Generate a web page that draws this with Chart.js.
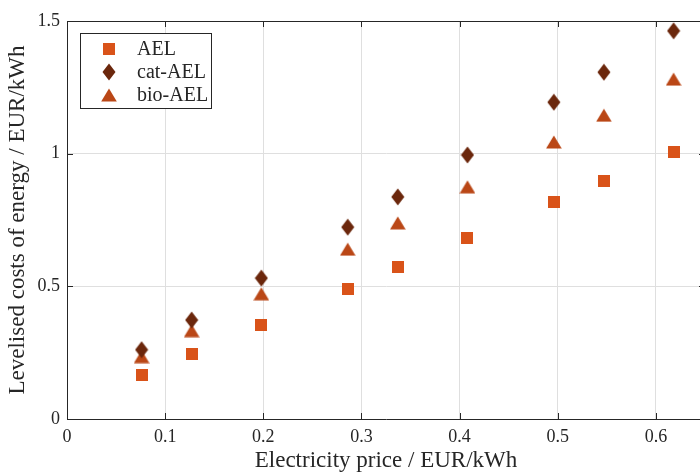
<!DOCTYPE html>
<html>
<head>
<meta charset="utf-8">
<script src="https://cdn.jsdelivr.net/npm/chart.js@4.4.1/dist/chart.umd.min.js"></script>
<style>
  html, body { margin: 0; padding: 0; background: #fff; overflow: hidden; }
  canvas { display: block; }
</style>
</head>
<body>
<canvas id="lcoeChart" width="713" height="476"></canvas>
<script>
// Levelised costs of energy vs electricity price for three electrolyser types
const price = [0.076, 0.127, 0.198, 0.286, 0.337, 0.408, 0.496, 0.547, 0.618];
const ael = [0.166, 0.245, 0.356, 0.490, 0.572, 0.682, 0.817, 0.896, 1.006];
const catAel = [0.261, 0.373, 0.531, 0.723, 0.837, 0.995, 1.194, 1.307, 1.463];
const bioAel = [0.235, 0.333, 0.472, 0.640, 0.739, 0.875, 1.044, 1.145, 1.281];
const seriesNames = ["AEL", "cat-AEL", "bio-AEL"];
const xTicks = [0, 0.1, 0.2, 0.3, 0.4, 0.5, 0.6];
const yTicks = [0, 0.5, 1, 1.5];

const axisColor = "#262626";
const gridColor = "#dfdfdf";
const serif = "'Liberation Serif', 'Times New Roman', serif";

// small canvases used as point markers
const makeMarker = (w, h, color, pts) => {
    const c = document.createElement("canvas");
    c.width = w; c.height = h;
    const g = c.getContext("2d");
    g.fillStyle = color;
    g.beginPath();
    pts.forEach((p, i) => i ? g.lineTo(p[0], p[1]) : g.moveTo(p[0], p[1]));
    g.closePath();
    g.fill();
    return c;
};
const squareMark = makeMarker(12, 12, "#D95319", [[0, 0], [12, 0], [12, 12], [0, 12]]);
const diamondMark = makeMarker(14, 18, "#6B270C", [[7, 0.5], [13.5, 9], [7, 17.5], [0.5, 9]]);
const triangleMark = makeMarker(16, 14, "#BA4716", [[8, 0.5], [15.8, 13.5], [0.2, 13.5]]);
const markers = [squareMark, diamondMark, triangleMark];

const toPoints = ys => ys.map((v, i) => ({ x: price[i], y: v }));

// box edges, inward ticks and the legend
const axisBox = {
    id: "axisBox",
    afterDatasetsDraw(chart) {
        const { ctx, chartArea: a, scales: { x, y } } = chart;
        ctx.save();
        ctx.strokeStyle = axisColor;
        ctx.lineWidth = 1;
        ctx.beginPath();
        ctx.moveTo(a.left, a.top + 0.5); ctx.lineTo(a.right, a.top + 0.5);
        ctx.moveTo(a.right - 0.5, a.top); ctx.lineTo(a.right - 0.5, a.bottom);
        x.ticks.forEach(t => {
            const px = Math.round(x.getPixelForValue(t.value)) + 0.5;
            ctx.moveTo(px, a.bottom); ctx.lineTo(px, a.bottom - 6);
            ctx.moveTo(px, a.top); ctx.lineTo(px, a.top + 6);
        });
        y.ticks.forEach(t => {
            const py = Math.round(y.getPixelForValue(t.value)) + 0.5;
            ctx.moveTo(a.left, py); ctx.lineTo(a.left + 6, py);
            ctx.moveTo(a.right, py); ctx.lineTo(a.right - 6, py);
        });
        ctx.stroke();

        // legend
        const lx = 80.5, ly = 33.5, lw = 131, lh = 75;
        ctx.fillStyle = "#fff";
        ctx.fillRect(lx, ly, lw, lh);
        ctx.strokeRect(lx, ly, lw, lh);
        ctx.font = "20px " + serif;
        ctx.fillStyle = axisColor;
        ctx.textBaseline = "middle";
        ctx.textAlign = "left";
        seriesNames.forEach((name, i) => {
            const cy = 49 + i * 23;
            const m = markers[i];
            ctx.drawImage(m, 109 - m.width / 2, cy - m.height / 2);
            ctx.fillText(name, 137, cy + 1);
        });
        ctx.restore();
    }
};

const tickText = v => String(+(+v).toFixed(1));

new Chart(document.getElementById("lcoeChart"), {
    type: "scatter",
    data: {
        datasets: [
            { label: seriesNames[0], data: toPoints(ael), pointStyle: squareMark, pointRadius: 7 },
            { label: seriesNames[1], data: toPoints(catAel), pointStyle: diamondMark, pointRadius: 7 },
            { label: seriesNames[2], data: toPoints(bioAel), pointStyle: triangleMark, pointRadius: 7 }
        ]
    },
    options: {
        responsive: false,
        animation: false,
        devicePixelRatio: 1,
        layout: { padding: { top: 21, right: 2, left: 0, bottom: 0 } },
        plugins: {
            legend: { display: false },
            tooltip: { enabled: false }
        },
        scales: {
            x: {
                type: "linear",
                min: 0,
                max: 0.65,
                afterBuildTicks: s => { s.ticks = xTicks.map(v => ({ value: v })); },
                afterFit: s => { s.height = 57; s.paddingLeft = 0; s.paddingRight = 0; },
                grid: { color: gridColor, drawTicks: false },
                border: { color: axisColor, width: 1 },
                ticks: {
                    padding: 7,
                    color: axisColor,
                    font: { family: serif, size: 18 },
                    callback: tickText
                },
                title: {
                    display: true,
                    text: "Electricity price / EUR/kWh",
                    color: axisColor,
                    font: { family: serif, size: 23 },
                    padding: { top: 0, bottom: 1 }
                }
            },
            y: {
                min: 0,
                max: 1.5,
                afterBuildTicks: s => { s.ticks = yTicks.map(v => ({ value: v })); },
                afterFit: s => { s.width = 67; s.paddingTop = 0; s.paddingBottom = 0; },
                grid: { color: gridColor, drawTicks: false },
                border: { color: axisColor, width: 1 },
                ticks: {
                    padding: 7,
                    color: axisColor,
                    font: { family: serif, size: 18 },
                    callback: tickText
                },
                title: {
                    display: true,
                    text: "Levelised costs of energy / EUR/kWh",
                    color: axisColor,
                    font: { family: serif, size: 23 },
                    padding: { top: 4, bottom: 0 }
                }
            }
        }
    },
    plugins: [axisBox]
});
</script>
</body>
</html>
